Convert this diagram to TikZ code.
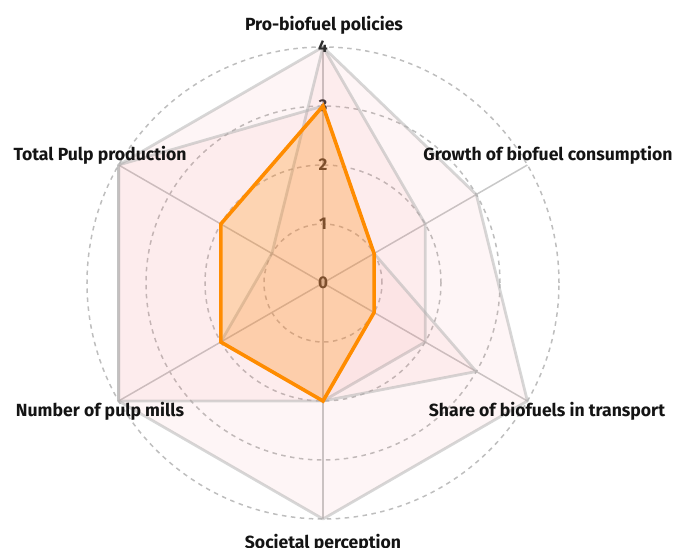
\documentclass[tikz,border=0pt]{standalone}
\usepackage{fontspec}
\setmainfont{Fira Sans}
\definecolor{seriesorange}{RGB}{255,140,0}
\definecolor{gridgray}{RGB}{200,200,200}
\definecolor{ringgray}{RGB}{190,190,190}
\definecolor{polygray}{RGB}{175,175,175}
\definecolor{pinkfill}{RGB}{240,120,125}
\definecolor{labeltext}{RGB}{20,20,20}
\begin{document}
\begin{tikzpicture}[x=1pt,y=1pt,
  spoke/.style={draw=gridgray, line width=1.5},
  ring/.style={draw=ringgray, line width=1.5, dash pattern=on 4.5pt off 4.5pt},
  series/.style={draw=polygray, draw opacity=0.5, line width=2.8, line join=round, fill=pinkfill, fill opacity=0.07},
  mainseries/.style={draw=seriesorange, line width=3.6, line join=miter, fill=seriesorange, fill opacity=0.25},
  axlabel/.style={font=\bfseries\fontsize{17.6}{20}\selectfont, text=labeltext, inner sep=0pt},
  ticklabel/.style={font=\bfseries\fontsize{17}{20}\selectfont, text=black!82, inner sep=0pt}]
\useasboundingbox (-323,-265) rectangle (356,283);
\clip (-323,-265) rectangle (356,283);
\def\u{59}
% rings
\foreach \r in {1,2,3,4} \draw[ring] (0,0) circle ({\r*\u});
% spokes
\foreach \a in {90,30,-30,-90,-150,150} \draw[spoke] (0,0) -- (\a:{4*\u});
% tick labels (under the data)
\foreach \r in {0,1,2,3} \node[ticklabel] (t\r) at (0,{\r*\u}) {\r};
% data series
\draw[series] (90:{4*\u}) -- (30:{3*\u}) -- (-30:{4*\u}) -- (-90:{4*\u}) -- (-150:{4*\u}) -- (150:{4*\u}) -- cycle;
\draw[series] (90:{4*\u}) -- (30:{2*\u}) -- (-30:{2*\u}) -- (-90:{2*\u}) -- (-150:{2*\u}) -- (150:{1*\u}) -- cycle;
\draw[series] (90:{3*\u}) -- (30:{1*\u}) -- (-30:{3*\u}) -- (-90:{2*\u}) -- (-150:{4*\u}) -- (150:{4*\u}) -- cycle;
\draw[mainseries] (90:{3*\u}) -- (30:{1*\u}) -- (-30:{1*\u}) -- (-90:{2*\u}) -- (-150:{2*\u}) -- (150:{2*\u}) -- cycle;
% top tick label
\node[ticklabel] (t4) at (0,{4*\u}) {4};
% axis labels
\node[axlabel] (lpro) at (1,258) {Pro-biofuel policies};
\node[axlabel] (lgrowth) at (225,128) {Growth of biofuel consumption};
\node[axlabel] (lshare) at (224,-128) {Share of biofuels in transport};
\node[axlabel] (lsoc) at (0,-260) {Societal perception};
\node[axlabel] (lnum) at (-223,-128) {Number of pulp mills};
\node[axlabel] (ltotal) at (-223,128) {Total Pulp production};
\end{tikzpicture}
\end{document}
